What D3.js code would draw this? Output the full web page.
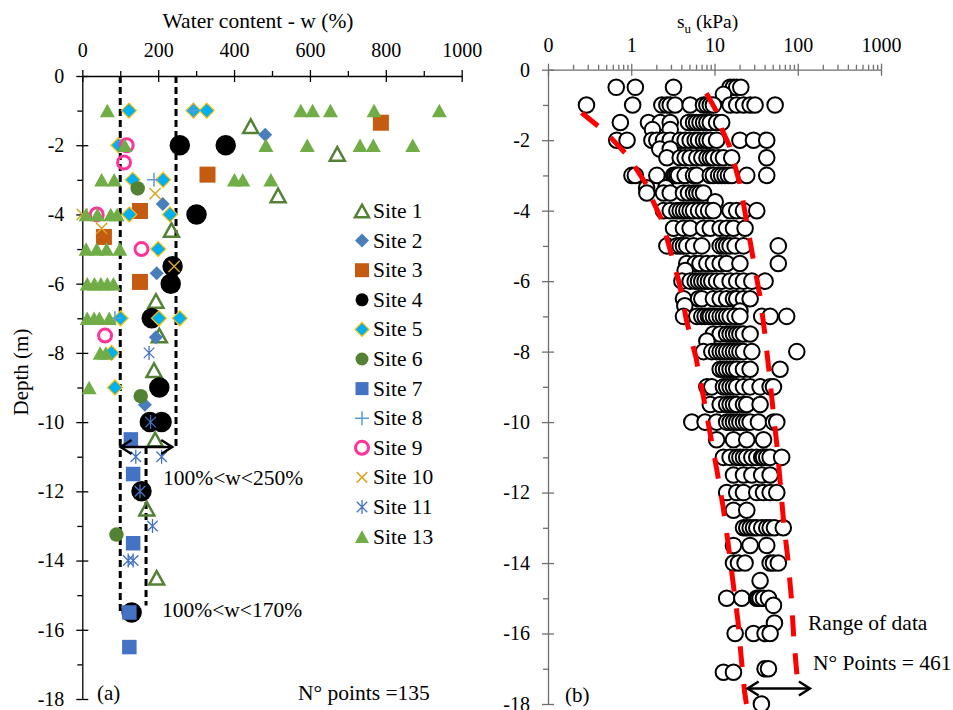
<!DOCTYPE html>
<html>
<head>
<meta charset="utf-8">
<script src="https://cdn.jsdelivr.net/npm/d3@7"></script>
<style>
  body { margin: 0; background: #fff; }
  svg text { font-family: "Liberation Serif", "Times New Roman", serif; fill: #000; }
</style>
</head>
<body>
<script>
(function(){

    // ---- panel (a): water content vs depth ----
    var siteNames = ["Site 1", "Site 2", "Site 3", "Site 4", "Site 5", "Site 6",
                     "Site 7", "Site 8", "Site 9", "Site 10", "Site 11", "Site 13"];

    var siteW = [
        [444, 672, 516, 235, 194, 203, 189, 192, 170, 196],
        [482, 212, 196, 194, 165],
        [787, 330, 152, 57, 152],
        [257, 378, 301, 238, 233, 183, 203, 178, 209, 156, 130],
        [123, 293, 328, 95, 133, 213, 124, 231, 200, 101, 202, 257, 77, 86],
        [146, 154, 90],
        [128, 134, 134, 124, 124],
        [293, 189, 86],
        [117, 110, 38, 156, 60],
        [192, 0, 51, 242],
        [176, 180, 141, 209, 152, 185, 121, 134],
        [66, 576, 607, 654, 769, 941, 112, 484, 593, 732, 767, 871, 51, 84, 401, 423, 497,
         10, 40, 75, 92, 10, 38, 64, 99, 13, 32, 49, 66, 82, 13, 31, 45, 71, 47, 62, 18]
    ];

    var siteDepth = [
        [-1.45, -2.25, -3.45, -4.45, -6.5, -7.5, -8.5, -10.5, -12.5, -14.5],
        [-1.7, -3.7, -5.7, -7.55, -9.5],
        [-1.35, -2.85, -3.9, -4.65, -5.95],
        [-2, -2, -4, -5.5, -6, -7, -9, -10, -10, -12, -15.5],
        [-1, -1, -1, -2, -3, -3, -4, -4, -5, -7, -7, -7, -8, -9],
        [-3.25, -9.25, -13.25],
        [-10.5, -11.5, -13.5, -15.5, -16.5],
        [-1, -3, -7],
        [-2, -2.5, -4, -5, -7.5],
        [-3.4, -4, -4.4, -5.5],
        [-8, -10, -11, -11, -12, -13, -14, -14],
        [-1, -1, -1, -1, -1, -1, -2, -2, -2, -2, -2, -2, -3, -3, -3, -3, -3,
         -4, -4, -4, -4, -5, -5, -5, -5, -6, -6, -6, -6, -6, -7, -7, -7, -7, -8, -8, -9]
    ];

    var wTicks = [0, 200, 400, 600, 800, 1000];
    var wMinorTicks = [100, 300, 500, 700, 900];
    var depthTicks = [0, -2, -4, -6, -8, -10, -12, -14, -16, -18];
    var depthMinorTicks = [-1, -3, -5, -7, -9, -11, -13, -15, -17];

    // dashed limits of w (%) and their depth extent
    var limitW = [100, 247, 168];
    var limitTop = [0, 0, -10.72];
    var limitBottom = [-15.5, -10.75, -15.3];
    var arrowW = [101, 237], arrowDepth = -10.72;

    // ---- panel (b): undrained shear strength vs depth ----
    var suTicks = [0.1, 1, 10, 100, 1000];
    var suTickLabels = ["0", "1", "10", "100", "1000"];
    var suMinorTicks = [0.2, 0.3, 0.4, 0.5, 0.6, 0.7, 0.8, 0.9, 2, 3, 4, 5, 6, 7, 8, 9,
                        20, 30, 40, 50, 60, 70, 80, 90, 200, 300, 400, 500, 600, 700, 800, 900];

    var suDepths = [-0.5, -0.7, -1, -1.5, -1.7, -2, -2.25, -2.5, -3, -3.35, -3.5, -3.75, -4, -4.5,
                    -5, -5.5, -5.7, -6, -6.5, -6.7, -6.85, -7, -7.5, -7.7, -8, -8.5, -9, -9.5, -10,
                    -10.5, -11, -11.5, -12, -12.5, -13, -13.5, -14, -14.5, -15, -15.2, -15.7,
                    -16, -17, -17.1, -18];

    var suValues = [
        [0.66, 1.12, 3.22, 15.4, 16.9, 18.5, 20.7],
        [12.8],
        [0.29, 1.04, 2.33, 2.68, 2.94, 3.37, 5.1, 7.38, 8.1, 8.9, 9.7, 15.4, 18.5, 22.3, 26.8, 30.7, 53.5],
        [0.74, 1.61, 2.23, 2.94, 4.87, 5.6, 6.1, 6.7, 7.4, 8.1, 8.9, 10.6, 12.2],
        [1.8, 2.94],
        [0.67, 0.89, 1.77, 2.03, 2.44, 2.94, 3.87, 4.44, 5.1, 5.86, 6.43, 7.38, 8.1, 8.9, 10.6, 20.2, 29.4, 42.4],
        [2.2, 2.94],
        [2.68, 3.87, 4.44, 5.1, 6.13, 7.04, 8.1, 8.9, 9.7, 11.2, 12.8, 16.1, 42.4],
        [1.02, 1.12, 2.03, 3.22, 3.37, 3.53, 3.7, 4.44, 5.6, 6.1, 8.9, 9.7, 11.2, 12.2, 13.4, 14.7, 16.1, 24.4, 42.4],
        [1.53, 2.6],
        [1.54, 2.44, 2.94, 4.24, 4.87, 5.6, 6.13, 6.7, 7.38],
        [10.2],
        [2.44, 2.94, 3.53, 3.87, 4.24, 4.65, 5.1, 5.6, 6.43, 7.38, 8.5, 9.7, 15.4, 18.5, 22.3, 32.2],
        [3.22, 4.24, 5.1, 7.38, 8.9, 11.7, 14.0, 16.9, 23.3],
        [2.68, 3.53, 3.87, 4.24, 4.65, 5.6, 7.04, 11.7, 12.8, 14.0, 15.4, 17.7, 22.3, 58.4],
        [4.65, 5.86, 6.7, 8.1, 9.7, 11.7, 14.0, 20.2, 58.4],
        [4.44],
        [4.06, 5.1, 5.86, 6.43, 7.04, 7.71, 8.46, 9.28, 10.6, 12.2, 15.4, 18.5, 22.3, 28.1, 40.5],
        [4.24, 6.43, 7.04, 9.7, 11.7, 14.0, 16.9, 18.5, 22.3, 26.8],
        [4.4],
        [20.2],
        [4.24, 6.13, 7.04, 7.71, 8.46, 8.9, 9.7, 10.6, 11.7, 12.8, 14.0, 15.4, 17.7, 20.2, 36.9, 46.6, 73.6],
        [9.7, 11.7, 14.0, 15.4, 16.9, 18.5, 20.2, 22.3, 26.8],
        [8.1],
        [7.38, 9.28, 10.6, 11.7, 12.8, 14.0, 15.4, 16.9, 18.5, 20.2, 22.3, 28.1, 97.4],
        [11.7, 12.8, 14.0, 15.4, 16.9, 18.5, 22.3, 26.8, 61.3],
        [8.1, 9.28, 12.8, 14.0, 15.4, 16.9, 18.5, 22.3, 26.8, 35.3, 46.6, 51.1],
        [8.9, 11.7, 14.0, 15.4, 16.9, 18.5, 22.3, 24.4, 35.3],
        [5.34, 7.71, 10.6, 14.0, 15.4, 16.9, 18.5, 20.2, 22.3, 24.4, 26.8, 33.7, 51.1, 56],
        [10.6, 16.9, 24.4, 38.8],
        [12.8, 15.4, 18.5, 20.2, 22.3, 24.4, 28.1, 32.2, 36.9, 38.8, 42.4, 46.6, 64.1],
        [16.9, 22.3, 28.1, 36.9, 46.6],
        [14.0, 18.5, 22.3, 32.2, 38.8, 46.6, 56],
        [16.9, 24.4],
        [22.3, 24.4, 26.8, 29.4, 32.2, 36.9, 42.4, 46.6, 52.5, 67],
        [16.9, 26.8, 42.4],
        [16.9, 19.4, 23.3, 46.6, 51.1, 58.4],
        [35.3],
        [14.0, 21.3, 32.2, 33.7, 35.3, 38.8, 44.5],
        [51.1],
        [52.5],
        [17.7, 29.4, 40.5, 46.6],
        [40.5, 44.5],
        [12.8, 16.9],
        [36.6]
    ];

    // range of data (red dashed bounds)
    var lowerSu = [0.254, 0.40, 0.58, 0.84, 1.11, 1.53, 1.84, 2.31, 2.65, 3.05, 3.84, 4.6, 5.97,
                   7.3, 8.8, 10.6, 12.7, 14.6, 16.7, 19.2, 21.1, 23.1, 24.2];
    var lowerDepth = [-1.22, -1.6, -1.95, -2.36, -2.76, -3.27, -3.75, -4.25, -4.74, -5.26, -6.12, -7.11,
                      -8.15, -9.24, -10.28, -11.32, -12.41, -13.45, -14.55, -15.68, -16.77, -17.7, -18];
    var upperSu = [8.0, 10.6, 12.1, 15.3, 20.1, 24.2, 29.1, 35, 40.2, 45.3, 50.6, 56.5, 62, 68, 76.5, 84, 89.5, 98];
    var upperDepth = [-0.67, -1.19, -1.66, -2.19, -3.23, -4.27, -5.36, -6.4, -7.48, -8.58, -9.67,
                      -10.71, -11.8, -12.89, -13.93, -15.02, -16.11, -17.2];
    var rangeArrowSu = [25, 140], rangeArrowDepth = -17.56;

    // ---- styles per site (same order as siteNames) ----
    var siteStyle = [
        {shape: "triangle", size: 15, fill: "none", stroke: "#548235", sw: 2.5},
        {shape: "diamond", size: 14, fill: "#4a7ebb"},
        {shape: "square", size: 16, fill: "#c55a11"},
        {shape: "circle", size: 20.5, fill: "#000", legend: 13},
        {shape: "diamond", size: 15, fill: "#00b0f0", stroke: "#ffc000", sw: 1.2},
        {shape: "circle", size: 14.5, fill: "#548235", legend: 13},
        {shape: "square", size: 14.5, fill: "#4472c4", legend: 13},
        {shape: "plus", size: 14, fill: "none", stroke: "#5b9bd5", sw: 1.5},
        {shape: "circle", size: 13, fill: "none", stroke: "#ff3399", sw: 3},
        {shape: "times", size: 15, fill: "none", stroke: "#d9a520", sw: 1.5},
        {shape: "asterisk", size: 14, fill: "none", stroke: "#4472c4", sw: 1.3},
        {shape: "triangle", size: 15, fill: "#70ad47"}
    ];

    var width = 953, height = 710;

    var svg = d3.select("body")
        .append("svg")
        .attr("width", width)
        .attr("height", height);

    var xW = d3.scaleLinear().domain([0, 1000]).range([82.3, 461.7]);
    var yA = d3.scaleLinear().domain([0, -18]).range([76, 699]);

    var xSu = d3.scaleLog().domain([0.1, 1000]).range([548, 881]);
    var yB = d3.scaleLinear().domain([0, -18]).range([69.7, 704]);

    function markerPath(shape, s) {
        var h = s / 2, a;
        if (shape == "triangle") {
            a = s * 0.45;
            return "M0," + (-a) + "L" + h + "," + a + "L" + (-h) + "," + a + "Z";
        }
        if (shape == "diamond") return "M0," + (-h) + "L" + h + ",0L0," + h + "L" + (-h) + ",0Z";
        if (shape == "square") return "M" + (-h) + "," + (-h) + "h" + s + "v" + s + "h" + (-s) + "Z";
        if (shape == "circle") return "M" + h + ",0A" + h + "," + h + " 0 1,1 " + (-h) + ",0A" + h + "," + h + " 0 1,1 " + h + ",0Z";
        if (shape == "plus") return "M" + (-h) + ",0H" + h + "M0," + (-h) + "V" + h;
        a = h * 0.75;
        var x = "M" + (-a) + "," + (-a) + "L" + a + "," + a + "M" + (-a) + "," + a + "L" + a + "," + (-a);
        if (shape == "times") return x;
        return x + "M0," + (-h) + "V" + h;   // asterisk
    }

    function styleMarker(sel, st) {
        sel.attr("fill", st.fill)
            .attr("stroke", st.stroke || "none")
            .attr("stroke-width", st.sw || 0);
    }

    function styleAxis(g, color) {
        g.attr("font-size", 20)
            .attr("font-family", "Liberation Serif, Times New Roman, serif")
            .attr("color", color);
        g.selectAll("path, line").attr("stroke-width", 1.3);
        g.selectAll("text").attr("fill", "#000");
    }

    // axes with major ticks crossing the axis line
    function drawAxes(xScale, yScale, xTicks, xMinor, yTicks, yMinor, xFormat, color, pad) {
        var top = svg.append("g")
            .attr("transform", "translate(0," + yScale(0) + ")")
            .call(d3.axisTop(xScale).tickValues(xTicks).tickSizeInner(6).tickSizeOuter(0)
                .tickPadding(pad).tickFormat(xFormat));
        top.selectAll(".tick line").attr("y1", 6);
        styleAxis(top, color);

        var topMinor = svg.append("g")
            .attr("transform", "translate(0," + yScale(0) + ")")
            .call(d3.axisTop(xScale).tickValues(xMinor).tickSize(5).tickFormat(""));
        topMinor.select(".domain").remove();
        styleAxis(topMinor, color);

        var left = svg.append("g")
            .attr("transform", "translate(" + xScale.range()[0] + ",0)")
            .call(d3.axisLeft(yScale).tickValues(yTicks).tickSizeInner(6).tickSizeOuter(0)
                .tickPadding(12).tickFormat(function(d){ return String(d); }));
        left.selectAll(".tick line").attr("x1", 6);
        styleAxis(left, color);

        var leftMinor = svg.append("g")
            .attr("transform", "translate(" + xScale.range()[0] + ",0)")
            .call(d3.axisLeft(yScale).tickValues(yMinor).tickSize(5).tickFormat(""));
        leftMinor.select(".domain").remove();
        styleAxis(leftMinor, color);
    }

    drawAxes(xW, yA, wTicks, wMinorTicks, depthTicks, depthMinorTicks,
        function(d){ return String(d); }, "#000", 13);
    drawAxes(xSu, yB, suTicks, suMinorTicks, depthTicks, depthMinorTicks,
        function(d, i){ return suTickLabels[i]; }, "#6f6f6f", 12);

    // ---- panel (a) ----
    limitW.forEach(function(w, i){
        svg.append("line")
            .attr("x1", xW(w)).attr("x2", xW(w))
            .attr("y1", yA(limitTop[i])).attr("y2", yA(limitBottom[i]))
            .attr("stroke", "#000")
            .attr("stroke-width", 3)
            .attr("stroke-dasharray", "7,4");
    });

    siteW.forEach(function(ws, i){
        var st = siteStyle[i];
        ws.forEach(function(w, j){
            svg.append("path")
                .attr("d", markerPath(st.shape, st.size))
                .attr("transform", "translate(" + xW(w) + "," + yA(siteDepth[i][j]) + ")")
                .call(styleMarker, st);
        });
    });

    function doubleArrow(x1, x2, y) {
        var g = svg.append("g").attr("stroke", "#000").attr("stroke-width", 2.5).attr("fill", "none");
        g.append("line").attr("x1", x1).attr("x2", x2).attr("y1", y).attr("y2", y);
        g.append("path").attr("d", "M" + (x1 + 11) + "," + (y - 7) + "L" + x1 + "," + y + "L" + (x1 + 11) + "," + (y + 7));
        g.append("path").attr("d", "M" + (x2 - 11) + "," + (y - 7) + "L" + x2 + "," + y + "L" + (x2 - 11) + "," + (y + 7));
    }
    doubleArrow(xW(arrowW[0]), xW(arrowW[1]), yA(arrowDepth));

    // legend
    var legend = svg.append("g");
    siteNames.forEach(function(name, i){
        var st = siteStyle[i];
        var y = 211 + i * 29.6;
        legend.append("path")
            .attr("d", markerPath(st.shape, st.legend || Math.min(st.size, 14)))
            .attr("transform", "translate(362," + y + ")")
            .call(styleMarker, st);
        legend.append("text")
            .attr("x", 373).attr("y", y + 7)
            .attr("font-size", 21.5)
            .text(name);
    });

    svg.append("text").attr("x", 162.5).attr("y", 28).attr("font-size", 21.5)
        .attr("textLength", 191).attr("lengthAdjust", "spacing")
        .text("Water content - w (%)");
    svg.append("text")
        .attr("transform", "translate(28,372) rotate(-90)")
        .attr("text-anchor", "middle")
        .attr("font-size", 21)
        .text("Depth (m)");
    svg.append("text").attr("x", 163).attr("y", 485).attr("font-size", 21.5).text("100%<w<250%");
    svg.append("text").attr("x", 162).attr("y", 617).attr("font-size", 21.5).text("100%<w<170%");
    svg.append("text").attr("x", 97).attr("y", 700).attr("font-size", 21).text("(a)");
    svg.append("text").attr("x", 298).attr("y", 700).attr("font-size", 21.5).text("N° points =135");

    // ---- panel (b) ----
    var suPoints = [];
    suDepths.forEach(function(d, i){
        suValues[i].forEach(function(v){ suPoints.push([v, d]); });
    });

    svg.append("g")
        .selectAll("circle")
        .data(suPoints)
        .enter()
        .append("circle")
        .attr("cx", function(d){ return xSu(d[0]); })
        .attr("cy", function(d){ return yB(d[1]); })
        .attr("r", 7.8)
        .attr("fill", "#fff")
        .attr("stroke", "#000")
        .attr("stroke-width", 2);

    var bound = d3.line()
        .x(function(d){ return xSu(d[0]); })
        .y(function(d){ return yB(d[1]); });

    [[lowerSu, lowerDepth], [upperSu, upperDepth]].forEach(function(b){
        svg.append("path")
            .datum(b[0].map(function(v, i){ return [v, b[1][i]]; }))
            .attr("d", bound)
            .attr("fill", "none")
            .attr("stroke", "#ff0000")
            .attr("stroke-width", 5)
            .attr("stroke-dasharray", "21,17");
    });

    doubleArrow(xSu(rangeArrowSu[0]), xSu(rangeArrowSu[1]), yB(rangeArrowDepth));

    var suTitle = svg.append("text").attr("x", 677).attr("y", 28).attr("font-size", 19.5);
    suTitle.append("tspan").text("s");
    suTitle.append("tspan").attr("dy", 5).attr("font-size", 13).text("u");
    suTitle.append("tspan").attr("dy", -5).text(" (kPa)");

    svg.append("text").attr("x", 808).attr("y", 630).attr("font-size", 21.5).text("Range of data");
    svg.append("text").attr("x", 813).attr("y", 670).attr("font-size", 21.5).text("N° Points = 461");
    svg.append("text").attr("x", 565).attr("y", 702).attr("font-size", 21).text("(b)");

})();
</script>
</body>
</html>
